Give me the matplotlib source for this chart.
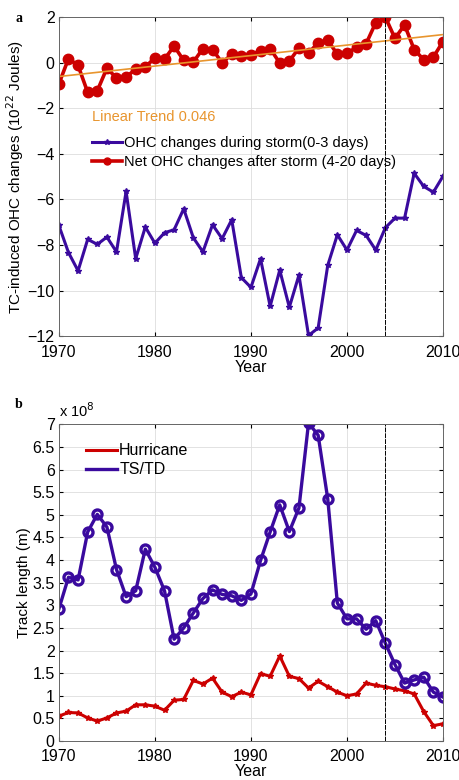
import numpy as np
import matplotlib
matplotlib.use("Agg")
import matplotlib.pyplot as plt
from matplotlib.lines import Line2D

plt.rcParams['font.family'] = ['Liberation Sans', 'DejaVu Sans']
plt.rcParams['font.size'] = 10

years = np.arange(1970, 2011)

# panel a: OHC changes (10^22 J)
ohc_during = [-7.14, -8.33, -9.13, -7.75, -7.97, -7.65, -8.3, -5.65, -8.6, -7.21,
              -7.92, -7.46, -7.33, -6.41, -7.68, -8.3, -7.11, -7.72, -6.89, -9.43,
              -9.86, -8.6, -10.69, -9.1, -10.73, -9.32, -11.97, -11.64, -8.89, -7.55,
              -8.22, -7.36, -7.58, -8.22, -7.24, -6.82, -6.82, -4.85, -5.43, -5.68,
              -4.98]
ohc_net = [-0.93, 0.18, -0.12, -1.3, -1.23, -0.24, -0.67, -0.64, -0.27, -0.19,
           0.22, 0.16, 0.73, 0.10, 0.03, 0.62, 0.58, 0.0, 0.37, 0.30,
           0.36, 0.52, 0.62, -0.01, 0.07, 0.65, 0.43, 0.87, 0.99, 0.37,
           0.43, 0.67, 0.84, 1.76, 2.0, 1.07, 1.66, 0.58, 0.13, 0.25,
           0.93]
trend_slope = 0.046

# panel b: track length (x 10^8 m)
tstd = [2.92, 3.62, 3.56, 4.62, 5.01, 4.73, 3.79, 3.19, 3.32, 4.24,
        3.84, 3.32, 2.25, 2.5, 2.83, 3.15, 3.34, 3.24, 3.21, 3.11,
        3.25, 3.99, 4.62, 5.22, 4.63, 5.15, 7.03, 6.76, 5.35, 3.05,
        2.7, 2.7, 2.47, 2.66, 2.16, 1.69, 1.28, 1.35, 1.41, 1.08,
        0.97]
hurricane = [0.55, 0.63, 0.62, 0.51, 0.44, 0.51, 0.62, 0.66, 0.80, 0.80,
             0.77, 0.68, 0.90, 0.92, 1.34, 1.26, 1.39, 1.08, 0.98, 1.08,
             1.02, 1.49, 1.43, 1.88, 1.43, 1.38, 1.17, 1.32, 1.2, 1.08,
             1.0, 1.04, 1.28, 1.23, 1.2, 1.15, 1.11, 1.04, 0.65, 0.34,
             0.38]

red = '#CC0000'
blue = '#3A0A9E'
orange = '#E8952E'
fs = 11.5

fig = plt.figure(figsize=(4.6, 7.8), dpi=100)
ax1 = fig.add_axes([0.128, 0.569, 0.835, 0.409])
ax2 = fig.add_axes([0.128, 0.050, 0.835, 0.406])

# --- panel a
intercept = np.mean(ohc_net) - trend_slope * np.mean(years)
ax1.plot(years, ohc_during, color=blue, lw=2.2, marker='*', ms=4)
ax1.plot(years, ohc_net, color=red, lw=2.6, marker='o', ms=7.5, mfc=red, mec=red)
ax1.plot(years, intercept + trend_slope * years, color=orange, lw=1.2)
ax1.axvline(2004, color='k', lw=0.7, ls=(0, (5, 1)))
ax1.set_xlim(1970, 2010)
ax1.set_ylim(-12, 2)
ax1.set_xticks(range(1970, 2011, 10))
ax1.set_yticks(range(-12, 3, 2))
ax1.set_xlabel('Year', fontsize=fs, labelpad=0)
ax1.set_ylabel('TC-induced OHC changes (10$^{22}$ Joules)', fontsize=11, labelpad=1)
ax1.text(0.087, 0.687, 'Linear Trend 0.046', transform=ax1.transAxes,
         color=orange, fontsize=10.5, va='center')
h1 = [Line2D([], [], color=blue, lw=2.2, marker='*', ms=4),
      Line2D([], [], color=red, lw=2.6, marker='o', ms=5)]
ax1.legend(h1, ['OHC changes during storm(0-3 days)',
                'Net OHC changes after storm (4-20 days)'],
           loc='upper left', bbox_to_anchor=(0.07, 0.645), frameon=False,
           fontsize=10.5, handlelength=2.1, handletextpad=0.15,
           labelspacing=0.3, borderaxespad=0)

# --- panel b
ax2.plot(years, hurricane, color=red, lw=2.2, marker='*', ms=4)
ax2.plot(years, tstd, color=blue, lw=2.4, marker='o', ms=6.5, mfc='none', mew=2.4)
ax2.axvline(2004, color='k', lw=0.7, ls=(0, (5, 1)))
ax2.set_xlim(1970, 2010)
ax2.set_ylim(0, 7)
ax2.set_xticks(range(1970, 2011, 10))
ax2.set_yticks(np.arange(0, 7.01, 0.5))
ax2.set_yticklabels(['0', '0.5', '1', '1.5', '2', '2.5', '3', '3.5', '4',
                     '4.5', '5', '5.5', '6', '6.5', '7'])
ax2.set_xlabel('Year', fontsize=fs, labelpad=0)
ax2.set_ylabel('Track length (m)', fontsize=11, labelpad=1)
ax2.text(0.0, 1.015, 'x 10$^{8}$', transform=ax2.transAxes, fontsize=10.5,
         va='bottom', ha='left')
h2 = [Line2D([], [], color=red, lw=2.2), Line2D([], [], color=blue, lw=2.4)]
ax2.legend(h2, ['Hurricane', 'TS/TD'], loc='upper left',
           bbox_to_anchor=(0.055, 0.96), frameon=False, fontsize=fs,
           handlelength=1.9, handletextpad=0.15, labelspacing=0.25,
           borderaxespad=0)

for ax in (ax1, ax2):
    ax.grid(True, color='#DDDDDD', lw=0.6)
    ax.set_axisbelow(True)
    ax.tick_params(direction='in', length=3, labelsize=fs, top=True, right=True,
                   labeltop=False, labelright=False)
    ax.tick_params(axis='y', pad=3)
    ax.tick_params(axis='x', pad=6)
    for s in ax.spines.values():
        s.set_color('#666666')
        s.set_linewidth(0.7)

fig.text(0.033, 0.985, 'a', fontsize=10, fontweight='bold', family='Liberation Serif',
         va='top')
fig.text(0.033, 0.49, 'b', fontsize=10, fontweight='bold', family='Liberation Serif',
         va='top')

fig.savefig('out.png', dpi=100)
